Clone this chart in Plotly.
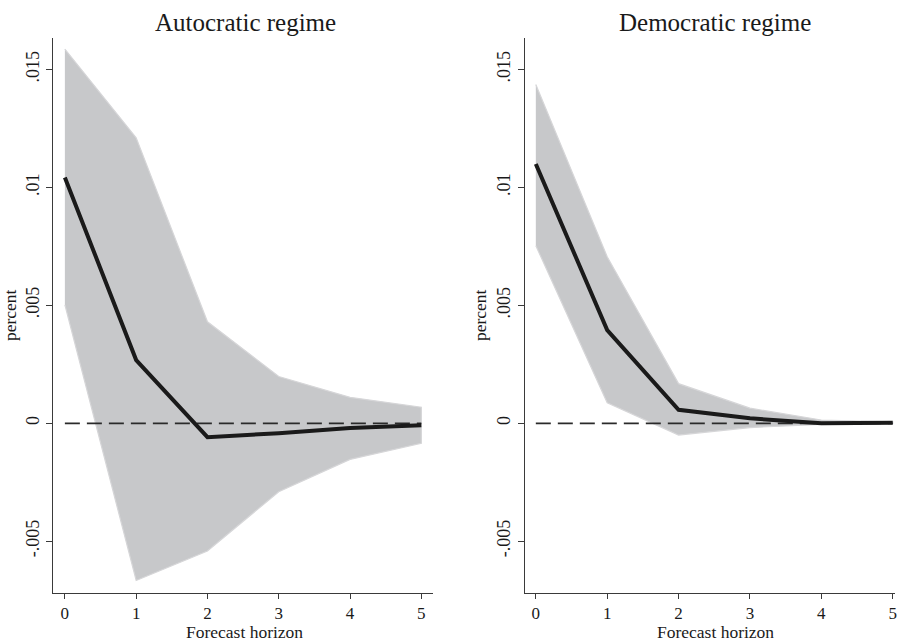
import plotly.graph_objects as go

# Forecast horizon (steps)
horizon = [0, 1, 2, 3, 4, 5]

# Autocratic regime: impulse response and confidence band
auto_irf = [0.01042, 0.00268, -0.00059, -0.00042, -0.00020, -0.00008]
auto_upper = [0.01586, 0.01210, 0.00430, 0.00198, 0.00110, 0.00068]
auto_lower = [0.00502, -0.00666, -0.00541, -0.00290, -0.00153, -0.00085]

# Democratic regime: impulse response and confidence band
demo_irf = [0.01099, 0.00395, 0.00057, 0.00021, 0.00000, 0.00002]
demo_upper = [0.01436, 0.00706, 0.00168, 0.00064, 0.00014, 0.00006]
demo_lower = [0.00753, 0.00087, -0.00050, -0.00018, -0.00005, -0.00001]

panel_titles = ["Autocratic regime", "Democratic regime"]
x_title = "Forecast horizon"
y_ticks = [-0.005, 0, 0.005, 0.01, 0.015]
y_ticktext = ["-.005", "0", ".005", ".01", ".015"]

W, H = 897, 641
FONT = "Liberation Serif, Times New Roman, serif"
TXT = "#1a1a1a"
AXC = "#3a3a3a"
BAND = "#c7c8ca"

fig = go.Figure()

panels = [
    (auto_irf, auto_upper, auto_lower, "x", "y"),
    (demo_irf, demo_upper, demo_lower, "x2", "y2"),
]
for irf, up, lo, xa, ya in panels:
    fig.add_trace(go.Scatter(
        x=horizon + horizon[::-1], y=up + lo[::-1],
        fill="toself", fillcolor=BAND, mode="lines",
        line=dict(color="#d6d6d8", width=1.2),
        xaxis=xa, yaxis=ya, showlegend=False, hoverinfo="skip"))
    fig.add_trace(go.Scatter(
        x=[horizon[0], horizon[-1]], y=[0, 0], mode="lines",
        line=dict(color="#2a2a2a", width=1.8, dash="15px,7px"),
        xaxis=xa, yaxis=ya, showlegend=False, hoverinfo="skip"))
    fig.add_trace(go.Scatter(
        x=horizon, y=irf, mode="lines",
        line=dict(color=TXT, width=4),
        xaxis=xa, yaxis=ya, showlegend=False))

y_dom = [(H - 592.7) / H, (H - 38) / H]
y_range = [-0.00718, 0.01633]

xcommon = dict(
    tickvals=horizon, ticktext=[str(h) for h in horizon],
    ticks="outside", ticklen=5, tickwidth=1.3, tickcolor=AXC,
    showline=True, linecolor=AXC, linewidth=1.3,
    showgrid=False, zeroline=False, ticklabeloverflow="allow",
    tickfont=dict(family=FONT, size=17, color=TXT),
)
ycommon = dict(
    range=y_range, domain=y_dom,
    tickvals=y_ticks, ticktext=y_ticktext, tickangle=-90,
    ticks="outside", ticklen=6, tickwidth=1.3, tickcolor=AXC,
    showline=True, linecolor=AXC, linewidth=1.3,
    showgrid=False, zeroline=False,
    tickfont=dict(family=FONT, size=18, color=TXT),
    title=dict(text="percent", font=dict(family=FONT, size=17.5, color=TXT), standoff=3),
)

def label(text, xpx, ypx, size):
    return dict(text=text, x=xpx / W, y=1 - ypx / H, xref="paper", yref="paper",
                xanchor="center", yanchor="middle", showarrow=False,
                font=dict(family=FONT, size=size, color=TXT))

fig.update_layout(
    width=W, height=H,
    margin=dict(l=0, r=0, t=0, b=0),
    paper_bgcolor="white", plot_bgcolor="white",
    xaxis=dict(xcommon, domain=[53.3 / W, 434 / W], range=[-0.164, 5.164], anchor="y"),
    yaxis=dict(ycommon, anchor="x"),
    xaxis2=dict(xcommon, domain=[526 / W, 1.0], range=[-0.154, 5.032], anchor="y2"),
    yaxis2=dict(ycommon, anchor="x2"),
    annotations=[
        label(panel_titles[0], 246, 22, 25),
        label(panel_titles[1], 717, 22, 25),
        label(x_title, 245.5, 631.5, 17.5),
        label(x_title, 717.5, 631.5, 17.5),
    ],
)

fig.write_html("out.html")
